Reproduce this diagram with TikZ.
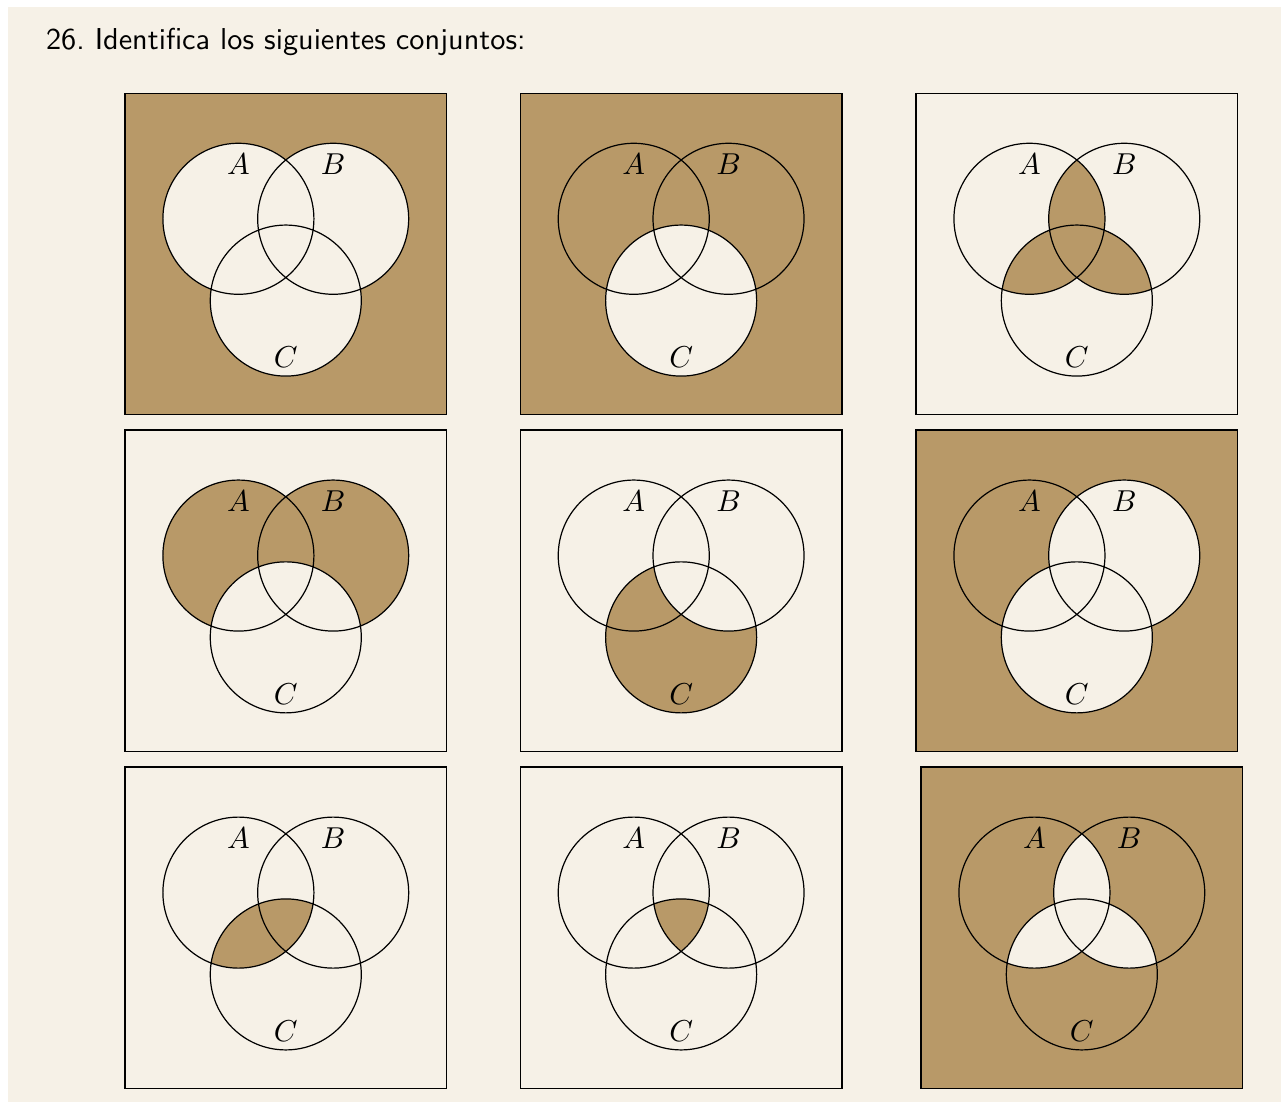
\documentclass[tikz,border=0pt]{standalone}
\usepackage{amsmath,amssymb}
\usepackage{tikz}
\usetikzlibrary{positioning}

\definecolor{papel}{RGB}{246,241,231}
\definecolor{sombra}{RGB}{184,153,104}

\newcommand{\conjA}{(-0.551,0.41) circle (0.878)}
\newcommand{\conjB}{(0.551,0.41) circle (0.878)}
\newcommand{\conjC}{(0,-0.541) circle (0.878)}
\newcommand{\universo}{(-1.87,-1.87) rectangle (1.87,1.87)}

\begin{document}
\begin{tikzpicture}
% Page
\fill[white] (0,0) rectangle (14.895,-12.814);
\useasboundingbox (0,0) rectangle (14.895,-12.814);
\fill[papel] (0.093,-0.081) rectangle (14.895,-12.814);

% Title
\node[anchor=base west, font=\sffamily, inner sep=0pt] (titulo) at (0.529,-0.581) {26.\ Identifica los siguientes conjuntos:};

% Shaded regions, row 1
\begin{scope}[shift={(3.323,-2.954)}]
  \fill[sombra] \universo;
  \fill[papel] \conjA \conjB \conjC;
\end{scope}
\begin{scope}[shift={(7.920,-2.954)}]
  \fill[sombra] \universo;
  \fill[papel] \conjC;
\end{scope}
\begin{scope}[shift={(12.521,-2.954)}]
  \begin{scope}
    \clip \conjA;
    \fill[sombra] \conjB \conjC;
  \end{scope}
  \begin{scope}
    \clip \conjB;
    \fill[sombra] \conjC;
  \end{scope}
\end{scope}

% Shaded regions, row 2
\begin{scope}[shift={(3.323,-6.870)}]
  \fill[sombra] \conjA \conjB;
  \fill[papel] \conjC;
\end{scope}
\begin{scope}[shift={(7.920,-6.870)}]
  \fill[sombra] \conjC;
  \fill[papel] \conjB;
\end{scope}
\begin{scope}[shift={(12.521,-6.870)}]
  \fill[sombra] \universo;
  \fill[papel] \conjB \conjC;
\end{scope}

% Shaded regions, row 3
\begin{scope}[shift={(3.323,-10.789)}]
  \clip \conjA;
  \fill[sombra] \conjC;
\end{scope}
\begin{scope}[shift={(7.920,-10.789)}]
  \clip \conjA;
  \clip \conjB;
  \fill[sombra] \conjC;
\end{scope}
\begin{scope}[shift={(12.579,-10.789)}]
  \fill[sombra] \universo;
  \begin{scope}
    \clip \conjA;
    \fill[papel] \conjB \conjC;
  \end{scope}
  \begin{scope}
    \clip \conjB;
    \fill[papel] \conjC;
  \end{scope}
\end{scope}

% Outlines and labels
\foreach \px/\py [count=\k] in {3.323/-2.954, 7.920/-2.954, 12.521/-2.954,
                                3.323/-6.870, 7.920/-6.870, 12.521/-6.870,
                                3.323/-10.789, 7.920/-10.789, 12.579/-10.789}{
  \begin{scope}[shift={(\px,\py)}]
    \draw \universo;
    \draw \conjA \conjB \conjC;
    \node (etqA\k) at (-0.551,1.047) {$A$};
    \node (etqB\k) at (0.551,1.047) {$B$};
    \node (etqC\k) at (0,-1.201) {$C$};
  \end{scope}
}
\end{tikzpicture}
\end{document}
